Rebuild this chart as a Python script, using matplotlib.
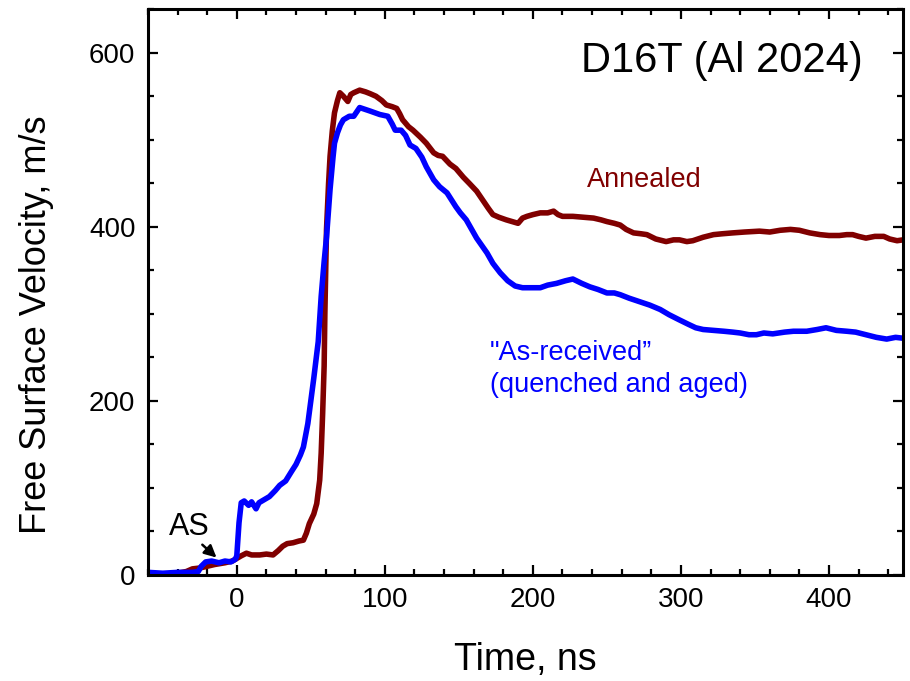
import matplotlib
matplotlib.use("Agg")
import matplotlib.pyplot as plt
from matplotlib.ticker import MultipleLocator

plt.rcParams['font.family'] = ['Liberation Sans', 'DejaVu Sans']

# "As-received" (quenched and aged) trace, time in ns / velocity in m/s
t_asrec = [-60, -50, -40, -30, -26, -24, -21, -17, -12, -8, -4, -1, 0, 1.5, 3, 5, 8, 10, 13, 15,
           18, 22, 26, 29, 33, 37, 40, 43, 45, 48, 50, 52, 55, 57, 59, 60.6, 62, 63, 65, 66,
           68, 70, 72, 76, 79, 83, 86.5, 90, 96.6, 102, 105, 107, 111, 114, 117, 121, 125, 128, 133, 137,
           142, 148, 151, 155, 162, 169, 173, 178, 183, 188, 193, 200, 205, 210, 216, 222, 227, 233, 238.5, 244,
           250, 255, 259, 265, 272, 279, 286, 292, 299, 305, 310, 315, 322, 329, 335, 340, 346, 351, 356, 362,
           370, 376, 385, 392, 398, 405, 412, 418, 425, 432, 439, 445, 450]
v_asrec = [3, 2, 3, 3, 4, 10, 15, 16, 14, 16, 15, 18, 22, 60, 83, 85, 80, 84, 76, 83,
           86, 90, 97, 103, 108, 119, 127, 138, 147, 174, 200, 226, 268, 320, 360, 388, 420, 443, 480, 496,
           508, 517, 523, 527, 527, 537, 535, 533, 529, 527, 518, 511, 511, 505, 494, 490, 480, 469, 454, 446,
           439, 423, 416, 408, 387, 370, 358, 347, 338, 332, 330, 330, 330, 333, 335, 338, 340, 335, 331, 328,
           324, 324, 322, 318, 314, 310, 305, 299, 293, 288, 284, 282, 281, 280, 279, 278, 276, 276, 278, 277,
           279, 280, 280, 282, 284, 281, 280, 279, 276, 273, 271, 273, 272]

# Annealed trace
t_ann = [-60, -50, -40, -34, -30, -25, -20, -15, -8, -3, 0, 3, 6.5, 10, 15.5, 20, 24.5, 28, 31, 34,
         38, 42, 45, 47, 49, 52, 54, 56, 57, 58, 59, 59.5, 60.6, 62, 63, 64.5, 66, 68, 69.6, 72,
         75, 77, 79, 83, 87, 90, 94, 98, 101, 105, 108, 110, 112, 116, 119, 124, 128, 133, 136, 139,
         144, 148, 153, 157, 162, 166, 170, 173, 177, 182, 186, 190, 193, 196, 200, 205, 210, 214, 217, 220,
         227, 234, 241, 246, 250, 255, 259, 263, 268, 273, 277, 283, 290, 295, 299, 304, 308, 315, 322, 328,
         335, 343, 353, 360, 367, 374, 380, 387, 394, 400, 407, 412, 416, 420, 425, 431, 437, 441, 446, 450]
v_ann = [0, 1, 2, 4, 7, 8, 10, 12, 14, 16, 19, 22, 25, 23, 23, 24, 23, 28, 33, 36,
         37, 39, 40, 48, 59, 70, 82, 109, 140, 186, 240, 301, 397, 450, 481, 510, 531, 545, 554, 550,
         544, 552, 554, 557, 555, 553, 550, 545, 540, 538, 536, 530, 523, 515, 511, 503, 496, 485, 482, 481,
         472, 467, 457, 450, 441, 431, 421, 414, 411, 408, 406, 404, 410, 412, 414, 416, 416, 418, 414, 412,
         412, 411, 410, 408, 406, 404, 402, 397, 393, 392, 391, 386, 383, 385, 385, 383, 384, 388, 391, 392,
         393, 394, 395, 394, 396, 397, 396, 393, 391, 390, 390, 391, 391, 389, 387, 389, 389, 386, 384, 385]

RED = '#800000'
BLUE = '#0000ff'

fig = plt.figure(figsize=(9.1, 6.81), dpi=100)
ax = fig.add_axes([0.1626, 0.1557, 0.8297, 0.8308])

ax.plot(t_ann, v_ann, color=RED, lw=4, solid_joinstyle='round')
ax.plot(t_asrec, v_asrec, color=BLUE, lw=4, solid_joinstyle='round')

ax.set_xlim(-60, 450)
ax.set_ylim(0, 650)

ax.xaxis.set_major_locator(MultipleLocator(100))
ax.xaxis.set_minor_locator(MultipleLocator(20))
ax.yaxis.set_major_locator(MultipleLocator(200))
ax.yaxis.set_minor_locator(MultipleLocator(50))
ax.tick_params(which='both', direction='in', top=True, right=True, width=1.6)
ax.tick_params(which='major', length=7, labelsize=20, pad=9)
ax.tick_params(which='minor', length=4)
for s in ax.spines.values():
    s.set_linewidth(2.2)

ax.set_xlabel('Time, ns', fontsize=27)
ax.set_ylabel('Free Surface Velocity, m/s', fontsize=26)
ax.xaxis.set_label_coords(0.5, -0.118)
ax.yaxis.set_label_coords(-0.125, 0.442)

ax.text(423, 578, 'D16T (Al 2024)', fontsize=30, ha='right', va='baseline')
ax.text(236.5, 446, 'Annealed', fontsize=19.5, color=RED, va='baseline')
ax.text(171, 210, '"As-received\u201d\n(quenched and aged)', fontsize=19.5, color=BLUE,
        va='baseline', linespacing=1.32)
ax.annotate('AS', xy=(-13.7, 20), xytext=(-46, 46), fontsize=22, va='baseline',
            arrowprops=dict(arrowstyle='-|>', color='k', lw=1.8, mutation_scale=18,
                            shrinkA=0, shrinkB=0, relpos=(0.75, 0)))

fig.savefig('out.png', dpi=100)
